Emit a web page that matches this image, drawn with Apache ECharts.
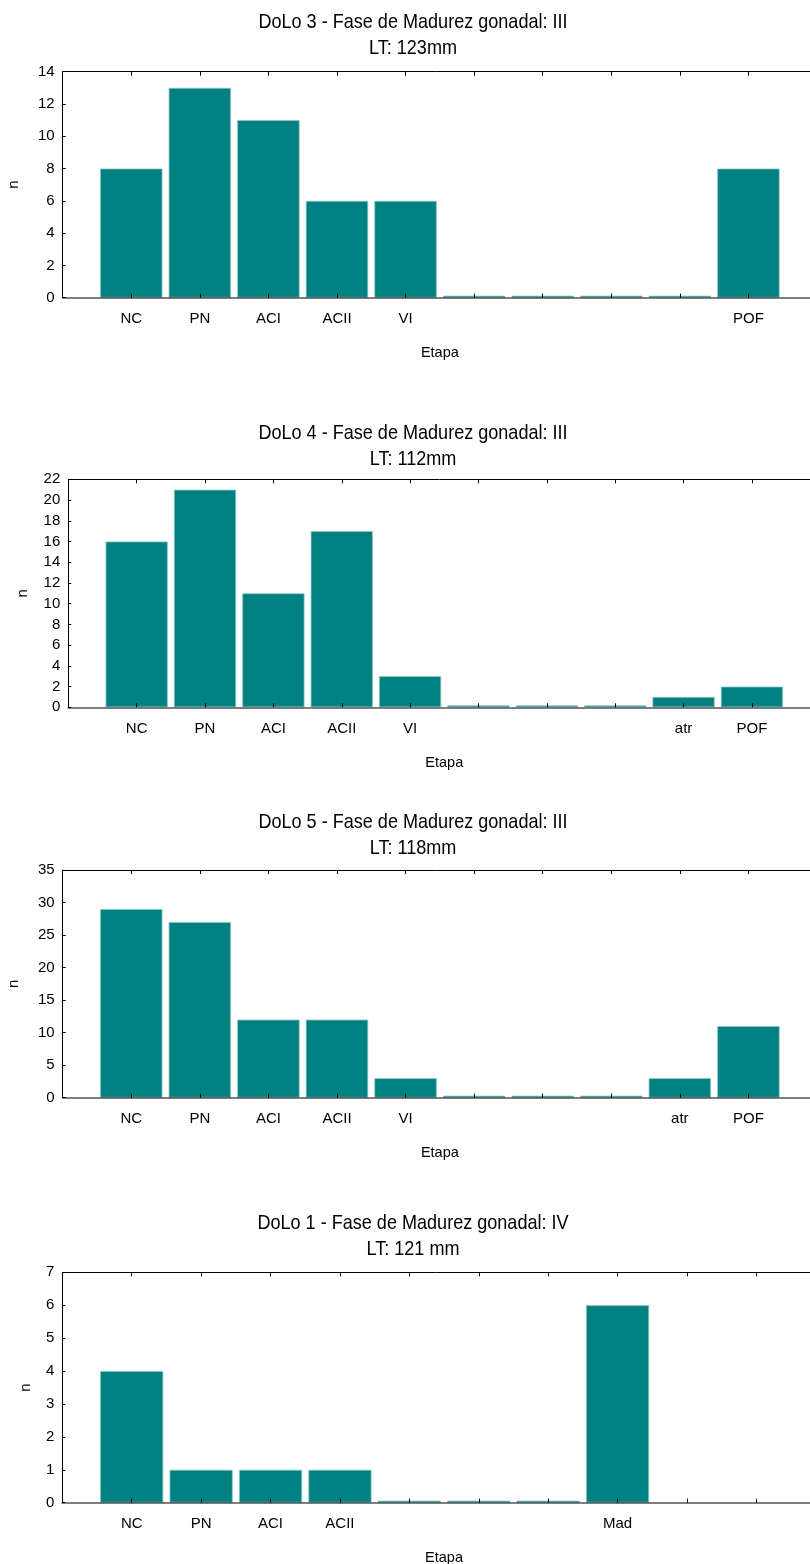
<!DOCTYPE html>
<html>
<head>
<meta charset="utf-8">
<script src="https://cdn.jsdelivr.net/npm/echarts@6/dist/echarts.min.js"></script>
<style>
  html, body { margin: 0; padding: 0; background: #fff; }
  #chart { width: 810px; height: 1564px; }
</style>
</head>
<body>
<div id="chart"></div>
<script>
// Oocyte stage counts per specimen (DoLo)
const stagesDoLo3 = ['NC', 'PN', 'ACI', 'ACII', 'VI', '', '', '', '', 'POF'];
const countsDoLo3 = [8, 13, 11, 6, 6, 0, 0, 0, 0, 8];

const stagesDoLo4 = ['NC', 'PN', 'ACI', 'ACII', 'VI', '', '', '', 'atr', 'POF'];
const countsDoLo4 = [16, 21, 11, 17, 3, 0, 0, 0, 1, 2];

const stagesDoLo5 = ['NC', 'PN', 'ACI', 'ACII', 'VI', '', '', '', 'atr', 'POF'];
const countsDoLo5 = [29, 27, 12, 12, 3, 0, 0, 0, 3, 11];

const stagesDoLo1 = ['NC', 'PN', 'ACI', 'ACII', '', '', '', 'Mad', '', ''];
const countsDoLo1 = [4, 1, 1, 1, 0, 0, 0, 6, null, null];

const titleLines = [
  ['DoLo 3 - Fase de Madurez gonadal: III', 'LT: 123mm'],
  ['DoLo 4 - Fase de Madurez gonadal: III', 'LT: 112mm'],
  ['DoLo 5 - Fase de Madurez gonadal: III', 'LT: 118mm'],
  ['DoLo 1 - Fase de Madurez gonadal: IV', 'LT: 121 mm']
];
const yMaxima = [14, 22, 35, 7];
const yIntervals = [2, 2, 5, 1];
const xAxisTitle = 'Etapa';
const yAxisTitle = 'n';

// Panel geometry (pixels); plots run slightly past the right edge of the page
const panels = [
  { stages: stagesDoLo3, counts: countsDoLo3, left: 62.7, top: 71.7, width: 754.3, height: 226, titleY: 22, nameGap: 41 },
  { stages: stagesDoLo4, counts: countsDoLo4, left: 68.3, top: 479.3, width: 752, height: 228, titleY: 433, nameGap: 38 },
  { stages: stagesDoLo5, counts: countsDoLo5, left: 62.7, top: 870, width: 754.3, height: 227.7, titleY: 822, nameGap: 41 },
  { stages: stagesDoLo1, counts: countsDoLo1, left: 62.3, top: 1272.3, width: 763.5, height: 230.4, titleY: 1223, nameGap: 29 }
];

const TEAL = '#008080';
const labelFont = "'Liberation Sans', Arial, sans-serif";

const grids = [], xAxes = [], yAxes = [], series = [], graphics = [];
const tickShown = (i) => i >= 1 && i <= 10;

panels.forEach((p, k) => {
  // one empty slot at each end so the bars sit on positions 1..10
  const cats = [''].concat(p.stages, ['']);
  const vals = [null].concat(p.counts, [null]);

  grids.push({
    left: p.left, top: p.top, width: p.width, height: p.height,
    containLabel: false, outerBoundsMode: 'none'
  });

  xAxes.push({
    type: 'category', gridIndex: k, position: 'bottom', data: cats, boundaryGap: false, z: 3,
    axisLine: { show: true, onZero: false, lineStyle: { color: 'rgba(0,0,0,0.5)', width: 2 } },
    axisTick: { show: true, inside: true, length: 4, interval: tickShown, lineStyle: { color: '#000', width: 1 } },
    axisLabel: { show: true, interval: 0, margin: 14, color: '#000', fontSize: 15, fontFamily: labelFont },
    splitLine: { show: false },
    name: xAxisTitle, nameLocation: 'middle', nameGap: 48,
    nameTextStyle: { color: '#000', fontSize: 14.5, fontFamily: labelFont }
  });
  xAxes.push({
    type: 'category', gridIndex: k, position: 'top', data: cats, boundaryGap: false, z: 3,
    axisLine: { show: true, onZero: false, lineStyle: { color: '#000', width: 1 } },
    axisTick: { show: true, inside: true, length: 4, interval: tickShown, lineStyle: { color: '#000', width: 1 } },
    axisLabel: { show: false },
    splitLine: { show: false }
  });

  yAxes.push({
    type: 'value', gridIndex: k, min: 0, max: yMaxima[k], interval: yIntervals[k],
    axisLine: { show: true, lineStyle: { color: '#000', width: 1 } },
    axisTick: { show: true, inside: true, length: 3, lineStyle: { color: '#000' } },
    axisLabel: { margin: 8, color: '#000', fontSize: 15, fontFamily: labelFont },
    splitLine: { show: false },
    name: yAxisTitle, nameLocation: 'middle', nameGap: p.nameGap, nameRotate: 90,
    nameTextStyle: { color: '#000', fontSize: 15, fontFamily: labelFont }
  });

  series.push({
    type: 'bar', xAxisIndex: 2 * k, yAxisIndex: k, data: vals,
    barCategoryGap: '9%', barMinHeight: 2, silent: true,
    itemStyle: { color: TEAL, borderColor: '#8cc6c6', borderWidth: 0.8 }
  });

  // two-line heading, slightly condensed
  graphics.push({
    type: 'text', x: 413, y: p.titleY - 13, scaleX: 0.86,
    style: {
      text: titleLines[k][0] + '\n' + titleLines[k][1],
      textAlign: 'center', textVerticalAlign: 'top',
      fill: '#000', fontSize: 21, lineHeight: 26, fontFamily: labelFont
    }
  });
});

const chart = echarts.init(document.getElementById('chart'), null, { renderer: 'canvas' });
chart.setOption({
  animation: false,
  backgroundColor: '#fff',
  grid: grids,
  xAxis: xAxes,
  yAxis: yAxes,
  series: series,
  graphic: graphics
});
</script>
</body>
</html>
